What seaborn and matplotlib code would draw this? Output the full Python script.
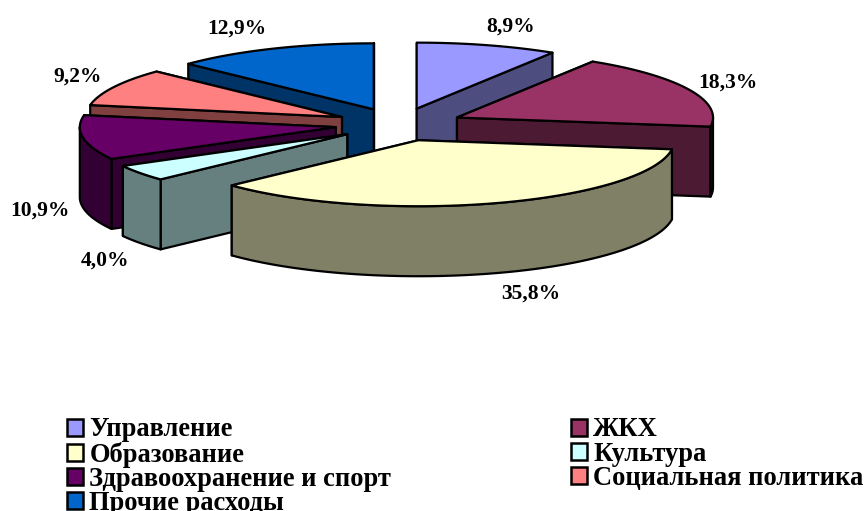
import numpy as np
import matplotlib
matplotlib.use('Agg')
import matplotlib.pyplot as plt
from matplotlib.patches import Patch
import seaborn as sns

categories = ['Управление', 'ЖКХ', 'Образование', 'Культура',
              'Здравоохранение и спорт', 'Социальная политика', 'Прочие расходы']
shares = [8.9, 18.3, 35.8, 4.0, 10.9, 9.2, 12.9]
top_colors = ['#9999FF', '#993366', '#FFFFCC', '#CCFFFF', '#660066', '#FF8080', '#0066CC']

# Pie geometry in pixels
cx, cy = 399, 124.5
rx, ry = 256, 66
depth = 70
explode = 0.25

# order the slices are painted in, back to front
paint_order = [0, 6, 5, 1, 4, 3, 2]
label_pos = [(511, 27), (728, 83), (531, 294), (105, 261), (40, 211), (78, 77), (237, 29)]

sns.set_theme(style='white')
plt.rcParams['font.family'] = ['Liberation Serif', 'DejaVu Serif']
plt.rcParams['font.weight'] = 'bold'

fig = plt.figure(figsize=(8.67, 5.11), dpi=100)
ax = fig.add_axes([0, 0, 1, 1])
ax.set_xlim(0, 867)
ax.set_ylim(511, 0)
ax.axis('off')

palette = sns.color_palette(top_colors)
side_colors = [tuple(c * 0.5 for c in col) for col in palette]

edges = np.concatenate([[0], np.cumsum(shares)]) / np.sum(shares) * 2 * np.pi


def rim(theta, ax0, ay0):
    return ax0 + rx * np.sin(theta), ay0 - ry * np.cos(theta)


def draw_face(xs, ys, color):
    ax.fill(xs, ys, facecolor=color, edgecolor='black', linewidth=1.6, joinstyle='round')


for i in paint_order:
    t0, t1 = edges[i], edges[i + 1]
    mid = (t0 + t1) / 2
    ax0 = cx + explode * rx * np.sin(mid)
    ay0 = cy - explode * ry * np.cos(mid)

    # the two cut faces, the one reaching further forward goes last
    for t in sorted([t0, t1], key=lambda a: -np.cos(a)):
        ex, ey = rim(t, ax0, ay0)
        draw_face([ax0, ex, ex, ax0], [ay0, ey, ey + depth, ay0 + depth], side_colors[i])

    # outer wall, only the half turned to the viewer
    lo, hi = max(t0, np.pi / 2), min(t1, 3 * np.pi / 2)
    if hi > lo:
        th = np.linspace(lo, hi, 80)
        wx, wy = rim(th, ax0, ay0)
        draw_face(np.r_[wx, wx[::-1]], np.r_[wy, wy[::-1] + depth], side_colors[i])

    th = np.linspace(t0, t1, 120)
    tx, ty = rim(th, ax0, ay0)
    draw_face(np.r_[ax0, tx], np.r_[ay0, ty], palette[i])

for v, (lx, ly) in zip(shares, label_pos):
    ax.text(lx, ly, f'{v:.1f}%'.replace('.', ','), ha='center', va='center',
            fontsize=15.5, fontweight='bold', color='black')

handles = [Patch(facecolor=c, edgecolor='black', linewidth=1.8) for c in palette]
# row-wise reading in the picture, legend fills by columns
legend_order = [0, 2, 4, 6, 1, 3, 5]
ax.legend([handles[i] for i in legend_order], [categories[i] for i in legend_order],
          ncol=2, frameon=False, loc='upper left', bbox_to_anchor=(67, 417.5),
          bbox_transform=ax.transData, borderaxespad=0, borderpad=0,
          handlelength=0.62, handleheight=0.62, handletextpad=0.22,
          labelspacing=-0.035, columnspacing=6.78, labelcolor='black',
          prop={'family': 'Liberation Serif', 'weight': 'bold', 'size': 19.1})

fig.savefig('out.png', dpi=100)
